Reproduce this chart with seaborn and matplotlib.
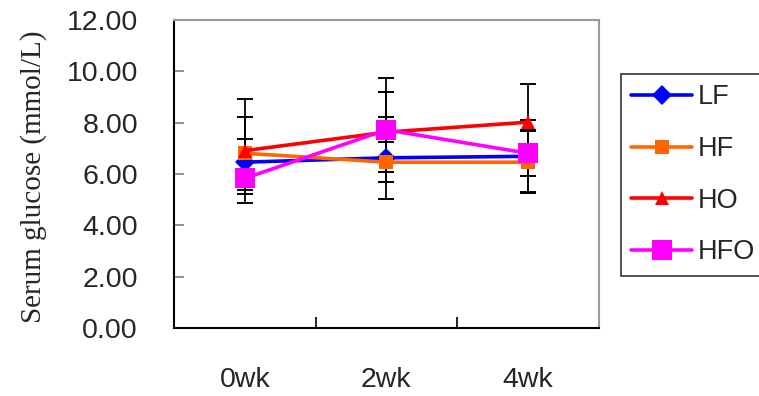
import matplotlib
matplotlib.use("Agg")
import matplotlib.pyplot as plt
import seaborn as sns
import pandas as pd
from matplotlib.ticker import FormatStrFormatter, FixedLocator

# ---- data ----
weeks = ["0wk", "2wk", "4wk"]
groups = ["LF", "HF", "HO", "HFO"]
lf_mean = [6.46, 6.63, 6.69]
hf_mean = [6.81, 6.46, 6.46]
ho_mean = [6.91, 7.63, 8.02]
hfo_mean = [5.83, 7.72, 6.81]
lf_err = [0.92, 1.61, 1.40]
hf_err = [1.43, 0.78, 1.21]
ho_err = [2.03, 1.55, 1.48]
hfo_err = [0.60, 2.02, 0.90]
y_ticks = [0, 2, 4, 6, 8, 10, 12]
y_label = "Serum glucose (mmol/L)"

means = {"LF": lf_mean, "HF": hf_mean, "HO": ho_mean, "HFO": hfo_mean}
errs = {"LF": lf_err, "HF": hf_err, "HO": ho_err, "HFO": hfo_err}

df = pd.DataFrame([
    {"week": w, "group": g, "value": means[g][i], "err": errs[g][i]}
    for g in groups for i, w in enumerate(weeks)
])

colors = {"LF": "#0000FF", "HF": "#FF6600", "HO": "#FF0000", "HFO": "#FF00FF"}
markers = {"LF": "D", "HF": "s", "HO": "^", "HFO": "s"}
msizes = {"LF": 10, "HF": 9.5, "HO": 10.5, "HFO": 14}

sns.set_style("white")
plt.rcParams["font.family"] = ["Liberation Sans", "DejaVu Sans"]

fig = plt.figure(figsize=(7.59, 3.96), dpi=100)
ax = fig.add_axes([174/759, 1 - 328/396, (598.7 - 174)/759, (328 - 20)/396])

# error bars (behind lines)
for g in groups:
    sub = df[df.group == g]
    ax.errorbar(sub["week"], sub["value"], yerr=sub["err"], fmt="none",
                ecolor="black", elinewidth=1.3, capsize=6, capthick=1.4, zorder=1)

for g in groups:
    sub = df[df.group == g]
    sns.lineplot(data=sub, x="week", y="value", ax=ax, color=colors[g],
                 marker=markers[g], markersize=msizes[g], markeredgewidth=0,
                 linewidth=2.6, label=g, sort=False, zorder=3)

ax.set_xlim(-0.5, 2.5)
ax.set_ylim(0, 12)
ax.yaxis.set_major_locator(FixedLocator(y_ticks))
ax.yaxis.set_major_formatter(FormatStrFormatter("%.2f"))
ax.set_xlabel("")
ax.set_ylabel(y_label, family=["Liberation Serif"], fontsize=21)
ax.yaxis.set_label_coords(-0.30, 0.49)

ax.xaxis.set_minor_locator(FixedLocator([0.5, 1.5]))
ax.tick_params(axis="x", which="major", length=0, pad=28, labelsize=20.5)
ax.tick_params(axis="x", which="minor", direction="in", length=8, width=1.2,
               color="black", bottom=True)
ax.tick_params(axis="y", which="major", direction="in", length=7, width=1.2,
               color="#808080", pad=26, labelsize=20.5, left=True)

for s in ["left", "bottom"]:
    ax.spines[s].set_color("black")
    ax.spines[s].set_linewidth(1.5)
for s in ["top", "right"]:
    ax.spines[s].set_color("#999999")
    ax.spines[s].set_linewidth(1.5)
    ax.spines[s].set_visible(True)

handles, labels = ax.get_legend_handles_labels()
ax.get_legend().remove()
leg = fig.legend(handles, labels, loc="upper left",
                 bbox_to_anchor=(621/759, 1 - 74/396), fontsize=19.5,
                 frameon=True, fancybox=False, edgecolor="black",
                 handlelength=2.25, handletextpad=0.2, labelspacing=0.95,
                 borderpad=0.38, borderaxespad=0)
leg.get_frame().set_linewidth(1.2)

fig.savefig("out.png", dpi=100)
